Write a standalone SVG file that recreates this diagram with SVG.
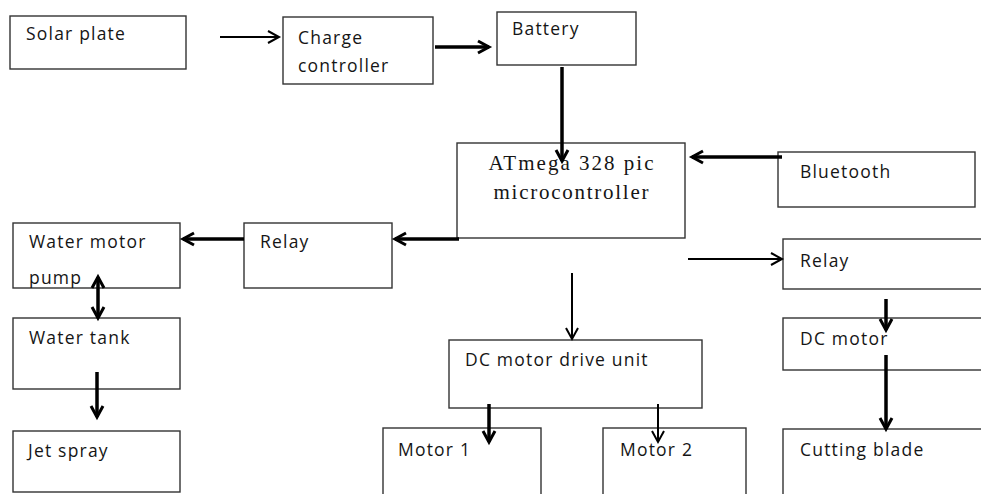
<svg xmlns="http://www.w3.org/2000/svg" width="981" height="494" viewBox="0 0 981 494">
<style>
.box{fill:#fff;stroke:#333;stroke-width:1.4}
.t{font-family:"Open Sans","DejaVu Sans",sans-serif;font-size:17.5px;letter-spacing:1.2px;fill:#151515}
.s{font-family:"Liberation Serif","Times New Roman",serif;font-size:21px;fill:#151515}
.thick{stroke:#000;stroke-width:3.5;fill:none}
.thin{stroke:#000;stroke-width:2;fill:none}
</style>
<defs>
<marker id="ah" markerUnits="userSpaceOnUse" markerWidth="16" markerHeight="16" refX="12" refY="7" orient="auto" overflow="visible">
<path d="M1,1 L12,7 L1,13" fill="none" stroke="#000" stroke-width="3"/>
</marker>
<marker id="ahs" markerUnits="userSpaceOnUse" markerWidth="16" markerHeight="16" refX="12" refY="7" orient="auto-start-reverse" overflow="visible">
<path d="M1,1 L12,7 L1,13" fill="none" stroke="#000" stroke-width="3"/>
</marker>
<marker id="an" markerUnits="userSpaceOnUse" markerWidth="16" markerHeight="16" refX="12" refY="7" orient="auto" overflow="visible">
<path d="M1,1 L12,7 L1,13" fill="none" stroke="#000" stroke-width="2"/>
</marker>
<clipPath id="wmpclip"><rect x="13" y="223" width="167" height="65"/></clipPath>
</defs>
<rect width="981" height="494" fill="#fff"/>

<g id="solar-plate"><rect class="box" x="10" y="16" width="176" height="53"/><text class="t" x="26" y="40">Solar plate</text></g>
<g id="charge-controller"><rect class="box" x="283" y="17" width="150" height="67"/><text class="t" x="298" y="44">Charge</text><text class="t" x="298" y="72">controller</text></g>
<g id="battery"><rect class="box" x="497" y="12" width="139" height="53"/><text class="t" x="512" y="35">Battery</text></g>
<g id="mcu"><rect class="box" x="457" y="143" width="228" height="95"/><text class="s" x="571" y="170" text-anchor="middle" textLength="165" lengthAdjust="spacing">ATmega 328 pic</text><text class="s" x="571" y="199" text-anchor="middle" textLength="155" lengthAdjust="spacing">microcontroller</text></g>
<g id="bluetooth"><rect class="box" x="778" y="152" width="197" height="55"/><text class="t" x="800" y="178">Bluetooth</text></g>
<g id="relay-left"><rect class="box" x="244" y="223" width="148" height="65"/><text class="t" x="260" y="248">Relay</text></g>
<g id="water-motor-pump"><rect class="box" x="13" y="223" width="167" height="65"/><text class="t" x="29" y="248">Water motor</text><text class="t" x="29" y="284" clip-path="url(#wmpclip)">pump</text></g>
<g id="water-tank"><rect class="box" x="13" y="318" width="167" height="71"/><text class="t" x="29" y="344">Water tank</text></g>
<g id="jet-spray"><rect class="box" x="13" y="431" width="167" height="61"/><text class="t" x="28" y="457">Jet spray</text></g>
<g id="dc-motor-drive"><rect class="box" x="449" y="340" width="253" height="68"/><text class="t" x="465" y="366">DC motor drive unit</text></g>
<g id="motor1"><rect class="box" x="383" y="428" width="158" height="80"/><text class="t" x="398" y="456">Motor 1</text></g>
<g id="motor2"><rect class="box" x="603" y="428" width="143" height="80"/><text class="t" x="620" y="456">Motor 2</text></g>
<g id="relay-right"><rect class="box" x="783" y="239" width="220" height="50"/><text class="t" x="800" y="267">Relay</text></g>
<g id="dc-motor"><rect class="box" x="783" y="318" width="220" height="52"/><text class="t" x="800" y="345">DC motor</text></g>
<g id="cutting-blade"><rect class="box" x="783" y="429" width="220" height="80"/><text class="t" x="800" y="456">Cutting blade</text></g>

<g id="connectors">
<line class="thin" x1="220" y1="37" x2="279" y2="37" marker-end="url(#an)"/>
<line class="thick" x1="435" y1="47" x2="489" y2="47" marker-end="url(#ah)"/>
<line class="thick" x1="562" y1="67" x2="562" y2="161" marker-end="url(#ah)"/>
<line class="thick" x1="782" y1="157" x2="692" y2="157" marker-end="url(#ah)"/>
<line class="thick" x1="459" y1="239" x2="395" y2="239" marker-end="url(#ah)"/>
<line class="thick" x1="244" y1="239" x2="183" y2="239" marker-end="url(#ah)"/>
<line class="thick" x1="98" y1="277" x2="98" y2="318" marker-start="url(#ahs)" marker-end="url(#ah)"/>
<line class="thick" x1="97" y1="372" x2="97" y2="417" marker-end="url(#ah)"/>
<line class="thin" x1="572" y1="273" x2="572" y2="339" marker-end="url(#an)"/>
<line class="thick" x1="489" y1="404" x2="489" y2="442" marker-end="url(#ah)"/>
<line class="thin" x1="658" y1="404" x2="658" y2="442" marker-end="url(#an)"/>
<line class="thin" x1="688" y1="259" x2="782" y2="259" marker-end="url(#an)"/>
<line class="thick" x1="886" y1="299" x2="886" y2="330" marker-end="url(#ah)"/>
<line class="thick" x1="886" y1="355" x2="886" y2="429" marker-end="url(#ah)"/>
</g>
</svg>
